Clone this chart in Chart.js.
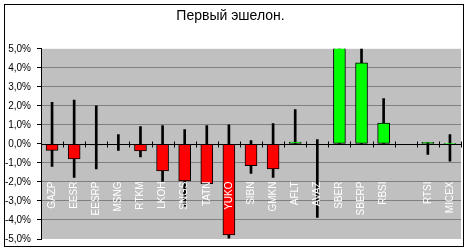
<!DOCTYPE html>
<html>
<head>
<meta charset="utf-8">
<script src="https://cdn.jsdelivr.net/npm/chart.js@4/dist/chart.umd.min.js"></script>
<style>
  html, body { margin: 0; padding: 0; background: #fff; }
  canvas { display: block; }
</style>
</head>
<body>
<canvas id="myChart" width="468" height="252"></canvas>
<script>
// Tickers (one empty slot between RBSI and RTSI, like in the sheet)
const tickers = ['GAZP', 'EESR', 'EESRP', 'MSNG', 'RTKM', 'LKOH', 'SNGS', 'TATN', 'YUKO', 'SIBN',
    'GMKN', 'AFLT', 'AVAZ', 'SBER', 'SBERP', 'RBSI', '', 'RTSI', 'MICEX'];
// Day change, % (open is yesterday close = 0)
const openVals = [0, 0, 0, 0, 0, 0, 0, 0, 0, 0, 0, 0, 0, 0, 0, 0, null, 0, 0];
const closeVals = [-0.34, -0.79, -0.05, 0, -0.37, -1.42, -1.95, -2.09, -4.79, -1.14,
    -1.32, 0.1, 0, 5.6, 4.26, 1.1, null, 0.08, 0.03];
const highVals = [2.19, 2.3, 2.0, 0.49, 0.91, 0.96, 0.75, 0.96, 1.0, 0.17,
    1.07, 1.8, 0.23, 6.0, 5.5, 2.38, null, 0.08, 0.49];
const lowVals = [-1.18, -1.76, -1.32, -0.34, -0.68, -1.97, -3.28, -2.09, -4.95, -1.55,
    -1.76, 0, -3.86, 0, 0, 0, null, -0.55, -0.91];

const FONT = "'Liberation Sans', Arial, sans-serif";

const bodies = tickers.map((t, i) => closeVals[i] === null ? null : [openVals[i], closeVals[i]]);
const wicks = tickers.map((t, i) => lowVals[i] === null ? null : [lowVals[i], highVals[i]]);
const bodyColors = closeVals.map((c, i) => c !== null && c >= openVals[i] ? '#00FF00' : '#FF0000');

// Grey plot area, white page, black frame
const frame = {
    id: 'frame',
    beforeDraw(chart) {
        const { ctx, chartArea: a } = chart;
        ctx.save();
        ctx.fillStyle = '#fff';
        ctx.fillRect(0, 0, chart.width, chart.height);
        ctx.fillStyle = '#C0C0C0';
        ctx.fillRect(a.left, a.top, a.right - a.left, a.bottom - a.top);
        ctx.restore();
    },
    afterDraw(chart) {
        const ctx = chart.ctx;
        ctx.save();
        ctx.strokeStyle = '#000';
        ctx.lineWidth = 1;
        ctx.strokeRect(4.5, 4.5, 459, 242);
        ctx.restore();
    }
};

// Category axis on the zero line + white vertical labels inside the plot
const zeroAxis = {
    id: 'zeroAxis',
    afterDatasetsDraw(chart) {
        const { ctx, chartArea: a, scales } = chart;
        const y0 = Math.round(scales.y.getPixelForValue(0)) + 0.5;
        const step = (a.right - a.left) / tickers.length;
        ctx.save();
        ctx.strokeStyle = '#000';
        ctx.lineWidth = 1;
        ctx.beginPath();
        ctx.moveTo(a.left, y0);
        ctx.lineTo(a.right, y0);
        for (let i = 1; i <= tickers.length; i++) {
            const x = Math.round(a.left + step * i) + 0.5;
            ctx.moveTo(x, y0 - 3);
            ctx.lineTo(x, y0 + 3);
        }
        ctx.stroke();

        ctx.fillStyle = '#fff';
        ctx.font = '10px ' + FONT;
        ctx.textAlign = 'right';
        ctx.textBaseline = 'middle';
        tickers.forEach((t, i) => {
            const x = scales.x.getPixelForValue(i);
            ctx.save();
            ctx.translate(x, y0 + 37);
            ctx.rotate(-Math.PI / 2);
            ctx.fillText(t, 0, 0);
            ctx.restore();
        });
        ctx.restore();
    }
};

new Chart(document.getElementById('myChart'), {
    type: 'bar',
    data: {
        labels: tickers,
        datasets: [{
            data: bodies,
            backgroundColor: bodyColors,
            borderColor: '#000',
            borderWidth: 1,
            borderSkipped: false,
            barThickness: 12,
            grouped: false
        }, {
            data: wicks,
            backgroundColor: '#000',
            borderWidth: 0,
            barThickness: 2,
            grouped: false
        }]
    },
    options: {
        responsive: false,
        animation: false,
        layout: {
            padding: { left: 0, right: 7, top: 0, bottom: 13 }
        },
        plugins: {
            legend: { display: false },
            tooltip: { enabled: false },
            title: {
                display: true,
                text: 'Первый эшелон.',
                color: '#000',
                font: { family: FONT, size: 14, weight: 'normal' },
                padding: { top: 8, bottom: 24 }
            }
        },
        scales: {
            x: {
                display: false,
                grid: { display: false }
            },
            y: {
                min: -5,
                max: 5,
                afterFit(scale) {
                    scale.width = 41;
                },
                ticks: {
                    stepSize: 1,
                    color: '#000',
                    padding: 6,
                    font: { family: FONT, size: 10 },
                    callback: v => v.toFixed(1).replace('.', ',') + '%'
                },
                border: { color: '#000', width: 1 },
                grid: {
                    color: c => [0, 5, -5].includes(c.tick.value) ? 'rgba(0,0,0,0)' : '#808080',
                    tickColor: '#000',
                    tickLength: 4
                }
            }
        }
    },
    plugins: [frame, zeroAxis]
});
</script>
</body>
</html>
